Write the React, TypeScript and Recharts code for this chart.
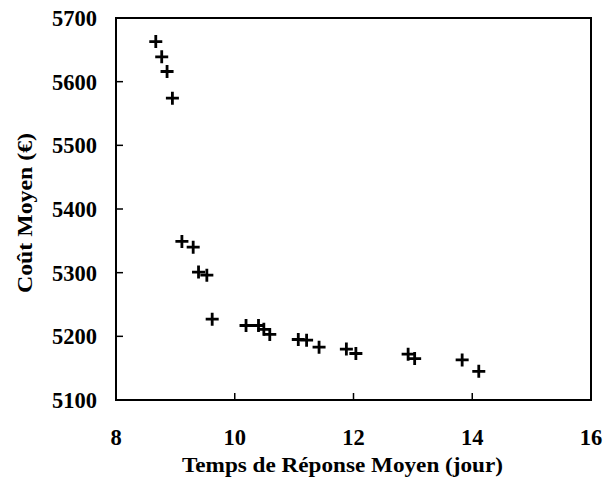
import React from "react";
import {
  ScatterChart,
  Scatter,
  XAxis,
  YAxis,
  ReferenceArea,
  Label,
} from "recharts";

const responseTimes = [
  8.67, 8.77, 8.86, 8.95, 9.11, 9.3, 9.39, 9.53, 9.62, 10.19, 10.4, 10.49,
  10.59, 11.07, 11.21, 11.42, 11.88, 12.04, 12.92, 13.03, 13.83, 14.11,
];
const meanCosts = [
  5663, 5639, 5616, 5574, 5349, 5340, 5301, 5296, 5227, 5217, 5217, 5211,
  5203, 5195, 5194, 5183, 5180, 5173, 5172, 5165, 5163, 5145,
];
const xTicks = [8, 10, 12, 14, 16];
const yTicks = [5100, 5200, 5300, 5400, 5500, 5600, 5700];
const xTitle = "Temps de Réponse Moyen (jour)";
const yTitle = "Coût Moyen (€)";

const data = responseTimes.map((x, i) => ({ x, y: meanCosts[i] }));

const FONT = "Liberation Serif";
const textStyle: React.CSSProperties = {
  fontFamily: FONT,
  fontSize: 21,
  fontWeight: 700,
  fill: "#000",
};
const tickStyle: React.CSSProperties = { ...textStyle, fontSize: 22.5 };

const PlusShape = (props: any) => {
  const { cx, cy } = props;
  if (cx == null || cy == null) return null;
  const r = 6.5;
  return (
    <path
      d={`M${cx - r},${cy}H${cx + r}M${cx},${cy - r}V${cy + r}`}
      stroke="#000"
      strokeWidth={2.8}
      fill="none"
    />
  );
};

const YTick = (props: any) => {
  const { x, y, payload } = props;
  return (
    <g>
      <line x1={x} y1={y} x2={x + 7} y2={y} stroke="#000" strokeWidth={1.5} />
      <text x={x - 19} y={y} dy="0.36em" textAnchor="end" style={tickStyle}>
        {payload.value}
      </text>
    </g>
  );
};

const XTick = (props: any) => {
  const { x, y, payload } = props;
  return (
    <g>
      <line x1={x} y1={y} x2={x} y2={y - 7} stroke="#000" strokeWidth={1.5} />
      <text x={x} y={y + 45} textAnchor="middle" style={tickStyle}>
        {payload.value}
      </text>
    </g>
  );
};

const XTitle = (props: any) => {
  const vb = props.viewBox || { x: 116, y: 400, width: 475 };
  const cx = vb.x + vb.width / 2 - 11;
  return (
    <text
      x={cx}
      y={vb.y + 72}
      textAnchor="middle"
      style={textStyle}
      textLength={321}
      lengthAdjust="spacingAndGlyphs"
    >
      {xTitle}
    </text>
  );
};

const YTitle = () => {
  const x = 32;
  const y = 213;
  return (
    <text
      x={x}
      y={y}
      transform={`rotate(-90, ${x}, ${y})`}
      textAnchor="middle"
      style={textStyle}
      textLength={160}
      lengthAdjust="spacingAndGlyphs"
    >
      {yTitle}
    </text>
  );
};

export default function App() {
  return (
    <div style={{ position: "absolute", left: 0, top: 0, background: "#fff" }}>
      <ScatterChart
        width={607}
        height={482}
        margin={{ top: 18, right: 16, bottom: 0, left: 0 }}
      >
        <XAxis
          type="number"
          dataKey="x"
          domain={[8, 16]}
          ticks={xTicks}
          interval={0}
          allowDataOverflow
          height={82}
          tickSize={0}
          tickMargin={0}
          tickLine={false}
          axisLine={{ stroke: "#000", strokeWidth: 2 }}
          tick={<XTick />}
        >
          <Label content={<XTitle />} />
        </XAxis>
        <YAxis
          type="number"
          dataKey="y"
          domain={[5100, 5700]}
          ticks={yTicks}
          interval={0}
          allowDataOverflow
          width={116}
          tickSize={0}
          tickMargin={0}
          tickLine={false}
          axisLine={{ stroke: "#000", strokeWidth: 2 }}
          tick={<YTick />}
        >
          <Label content={<YTitle />} />
        </YAxis>
        <ReferenceArea
          x1={8}
          x2={16}
          y1={5100}
          y2={5700}
          fill="none"
          fillOpacity={0}
          stroke="#000"
          strokeWidth={2}
          strokeOpacity={1}
          ifOverflow="visible"
        />
        <Scatter data={data} shape={<PlusShape />} isAnimationActive={false} />
      </ScatterChart>
    </div>
  );
}
